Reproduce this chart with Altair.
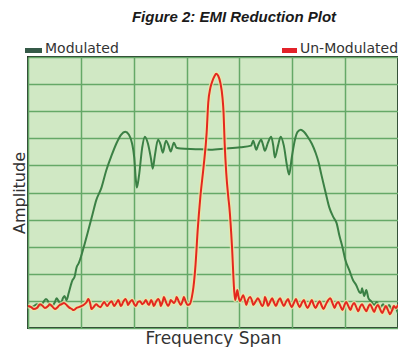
import altair as alt
import pandas as pd

# Modulated (spread-spectrum) trace: frequency span units 0-7, amplitude units 0-10
mod_x = [0.00, 0.06, 0.11, 0.17, 0.23, 0.28, 0.34, 0.38, 0.41, 0.45, 0.51, 0.54, 0.58, 0.62, 0.66, 0.69, 0.73,
         0.77, 0.81, 0.84, 0.88, 0.92, 0.96, 1.01, 1.07, 1.14, 1.22, 1.29, 1.39, 1.48, 1.58, 1.67, 1.76, 1.84,
         1.91, 1.97, 2.01, 2.04, 2.06, 2.10, 2.16, 2.21, 2.27, 2.33, 2.36, 2.40, 2.46, 2.51, 2.55, 2.61, 2.66,
         2.70, 2.76, 2.81, 2.89, 3.17, 3.45, 3.73, 4.02, 4.22, 4.26, 4.32, 4.35, 4.41, 4.45, 4.48, 4.54, 4.60,
         4.64, 4.67, 4.73, 4.78, 4.84, 4.90, 4.94, 4.99, 5.05, 5.10, 5.16, 5.22, 5.29, 5.37, 5.44, 5.50, 5.55,
         5.63, 5.70, 5.78, 5.84, 5.89, 5.95, 6.00, 6.08, 6.15, 6.21, 6.27, 6.30, 6.32, 6.36, 6.40, 6.44, 6.49,
         6.55, 6.60, 6.66, 6.72, 6.77, 6.83, 6.89, 6.94, 7.00]
mod_y = [0.81, 0.77, 0.81, 0.88, 0.81, 0.92, 1.07, 0.99, 0.85, 0.81, 0.96, 1.10, 0.99, 0.88, 1.10, 1.18, 1.03,
         1.29, 1.58, 1.76, 1.88, 2.24, 2.39, 2.68, 3.09, 3.60, 4.19, 4.71, 5.18, 5.81, 6.36, 6.80, 7.13, 7.24,
         7.13, 6.80, 6.29, 5.48, 5.18, 5.62, 6.65, 7.06, 6.80, 6.21, 5.88, 6.36, 6.95, 6.76, 6.47, 6.91, 6.73,
         6.51, 6.84, 6.65, 6.62, 6.60, 6.58, 6.62, 6.67, 6.73, 6.91, 6.58, 6.73, 6.95, 6.73, 6.54, 6.84, 7.06,
         6.73, 6.29, 6.73, 7.06, 6.73, 5.99, 5.66, 6.29, 6.95, 7.24, 7.32, 7.24, 7.06, 6.80, 6.47, 6.10, 5.66,
         5.00, 4.45, 4.08, 3.86, 3.42, 2.98, 2.54, 2.13, 1.76, 1.58, 1.32, 1.29, 1.47, 1.18, 1.40, 1.10, 0.99,
         0.85, 0.96, 0.74, 0.88, 0.70, 0.85, 0.66, 0.77, 0.55]

# Un-modulated (single carrier) trace
unmod_x = [0.00, 0.06, 0.11, 0.17, 0.23, 0.28, 0.32, 0.38, 0.41, 0.47, 0.51, 0.56, 0.60, 0.64, 0.68, 0.73, 0.77,
           0.83, 0.86, 0.92, 0.96, 1.01, 1.05, 1.11, 1.14, 1.18, 1.20, 1.24, 1.29, 1.33, 1.37, 1.41, 1.44, 1.48,
           1.50, 1.54, 1.58, 1.61, 1.63, 1.67, 1.71, 1.74, 1.76, 1.80, 1.84, 1.88, 1.89, 1.93, 1.97, 2.01, 2.04,
           2.08, 2.12, 2.16, 2.19, 2.23, 2.27, 2.29, 2.33, 2.36, 2.38, 2.42, 2.46, 2.50, 2.51, 2.55, 2.57, 2.61,
           2.65, 2.68, 2.70, 2.74, 2.76, 2.80, 2.81, 2.85, 2.89, 2.93, 2.95, 2.98, 3.02, 3.06, 3.10, 3.13, 3.17,
           3.21, 3.26, 3.32, 3.38, 3.41, 3.45, 3.49, 3.53, 3.56, 3.60, 3.64, 3.68, 3.70, 3.72, 3.75, 3.79, 3.81,
           3.86, 3.90, 3.92, 3.94, 3.96, 3.98, 4.01, 4.05, 4.07, 4.11, 4.13, 4.16, 4.20, 4.24, 4.26, 4.31, 4.35,
           4.39, 4.43, 4.47, 4.48, 4.52, 4.54, 4.58, 4.62, 4.65, 4.69, 4.73, 4.77, 4.80, 4.84, 4.88, 4.92, 4.95,
           4.99, 5.03, 5.07, 5.10, 5.14, 5.18, 5.22, 5.25, 5.29, 5.33, 5.37, 5.40, 5.44, 5.48, 5.52, 5.55, 5.59,
           5.63, 5.68, 5.72, 5.76, 5.80, 5.83, 5.87, 5.91, 5.95, 5.98, 6.02, 6.06, 6.10, 6.13, 6.17, 6.21, 6.25,
           6.28, 6.32, 6.36, 6.40, 6.43, 6.47, 6.51, 6.55, 6.58, 6.62, 6.66, 6.70, 6.73, 6.77, 6.81, 6.85, 6.89,
           6.92, 6.96, 7.00]
unmod_y = [0.81, 0.77, 0.70, 0.74, 0.88, 0.81, 0.74, 0.81, 0.88, 0.77, 0.70, 0.77, 0.85, 0.88, 0.92, 0.85, 0.77,
           0.70, 0.66, 0.74, 0.77, 0.81, 0.85, 0.96, 1.07, 0.88, 0.70, 0.77, 0.88, 0.81, 0.77, 0.88, 0.96, 0.85,
           0.81, 0.92, 0.99, 0.88, 0.81, 0.92, 1.03, 0.88, 0.81, 0.96, 1.07, 0.92, 0.85, 0.96, 1.03, 0.88, 0.81,
           0.96, 0.99, 0.88, 0.92, 1.03, 0.88, 0.85, 1.03, 0.92, 0.81, 0.96, 1.07, 0.92, 0.81, 0.99, 1.14, 0.96,
           0.81, 0.92, 1.03, 0.96, 0.92, 1.07, 1.14, 0.99, 0.85, 1.03, 1.14, 0.99, 0.85, 0.88, 1.14, 1.51, 2.35,
           3.60, 4.82, 5.92, 7.21, 8.31, 8.86, 9.12, 9.30, 9.38, 9.30, 9.04, 8.49, 7.94, 6.84, 5.74, 4.82, 4.45,
           2.98, 1.40, 1.03, 1.21, 1.40, 1.18, 0.99, 1.14, 1.21, 0.99, 0.85, 1.03, 1.14, 0.99, 0.85, 0.99, 1.10,
           0.96, 0.81, 0.99, 1.14, 0.96, 0.81, 0.96, 1.10, 0.96, 0.81, 0.99, 1.10, 0.96, 0.81, 0.96, 1.07, 0.92,
           0.77, 0.92, 1.07, 0.92, 0.77, 0.92, 1.03, 0.88, 0.74, 0.88, 1.03, 0.88, 0.74, 0.88, 0.99, 0.85, 0.70,
           0.85, 1.03, 1.10, 0.92, 0.74, 0.88, 0.96, 0.81, 0.66, 0.81, 0.96, 0.81, 0.66, 0.81, 0.92, 0.77, 0.62,
           0.77, 0.88, 0.74, 0.62, 0.74, 0.88, 0.74, 0.59, 0.74, 0.85, 0.70, 0.55, 0.66, 0.81, 0.66, 0.51, 0.66,
           0.81, 0.74, 0.85]

x_grid = [0, 1, 2, 3, 4, 5, 6, 7]
y_grid = [0, 1, 2, 3, 4, 5, 6, 7, 8, 9, 10]

series_names = ["Modulated", "Un-Modulated"]
swatch_colors = ["#355a48", "#e3222a"]
line_colors = ["#3b8045", "#e4281e"]
title_text = "Figure 2: EMI Reduction Plot"

mod_df = pd.DataFrame({"freq": mod_x, "amp": mod_y})
unmod_df = pd.DataFrame({"freq": unmod_x, "amp": unmod_y})

xs = alt.X("freq:Q", scale=alt.Scale(domain=[0, 7], nice=False, zero=False),
           axis=alt.Axis(values=x_grid, tickCount=8, title="Frequency Span", titlePadding=2,
                         titleBaseline="top", titleFontSize=17))
ys = alt.Y("amp:Q", scale=alt.Scale(domain=[0, 10], nice=False),
           axis=alt.Axis(values=y_grid, tickCount=11, title="Amplitude", titlePadding=1,
                         titleFontSize=16))

mod_line = alt.Chart(mod_df).mark_line(color=line_colors[0], strokeWidth=2,
                                       interpolate="monotone").encode(x=xs, y=ys)
halo = alt.Chart(unmod_df).mark_line(color="#f2e6a6", strokeWidth=4.5, opacity=0.75,
                                     interpolate="monotone").encode(x=xs, y=ys)
unmod_line = alt.Chart(unmod_df).mark_line(color=line_colors[1], strokeWidth=2,
                                           interpolate="monotone").encode(x=xs, y=ys)

leg1_df = pd.DataFrame({"label": [series_names[0]]})
leg2_df = pd.DataFrame({"label": [series_names[1]]})
title_df = pd.DataFrame({"label": [title_text]})

sw1 = alt.Chart(leg1_df).mark_rect(color=swatch_colors[0]).encode(
    x=alt.value(-3), x2=alt.value(14), y=alt.value(-9), y2=alt.value(-4))
tx1 = alt.Chart(leg1_df).mark_text(align="left", baseline="alphabetic", font="DejaVu Sans",
                                   fontSize=14, color="#333333").encode(
    x=alt.value(17), y=alt.value(-4), text="label:N")
sw2 = alt.Chart(leg2_df).mark_rect(color=swatch_colors[1]).encode(
    x=alt.value(254), x2=alt.value(269), y=alt.value(-9), y2=alt.value(-4))
tx2 = alt.Chart(leg2_df).mark_text(align="left", baseline="alphabetic", font="DejaVu Sans",
                                   fontSize=14, color="#333333").encode(
    x=alt.value(272), y=alt.value(-4), text="label:N")
ttl = alt.Chart(title_df).mark_text(align="center", baseline="alphabetic", font="Liberation Sans",
                                    fontSize=15, fontStyle="italic", fontWeight="bold",
                                    color="#1a1a1a").encode(
    x=alt.value(206), y=alt.value(-35), text="label:N")

chart = alt.layer(mod_line, halo, unmod_line, sw1, tx1, sw2, tx2, ttl).properties(
    width=370, height=271,
    autosize=alt.AutoSizeParams(type="none"),
    padding={"left": 20, "top": 49, "right": 0, "bottom": 19},
).configure_view(
    fill="#d0e8c4", stroke="#26342a", strokeWidth=2
).configure_axis(
    grid=True, gridColor="#65a867", gridWidth=1.5, gridOpacity=1,
    domain=False, ticks=False, labels=False,
    titleFont="DejaVu Sans", titleFontWeight="normal", titleColor="#333333"
)

chart.save("out.html", embed_options={"renderer": "svg", "actions": False})
